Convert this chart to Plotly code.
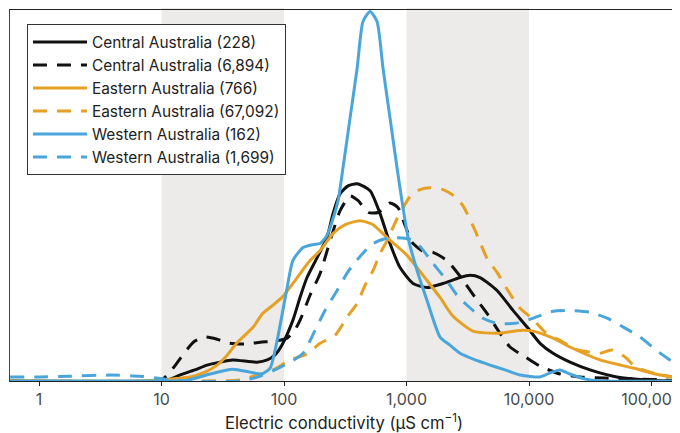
import plotly.graph_objects as go

# Electric conductivity (µS/cm) and relative density (% of max)
central_228_x = [0.58, 8.9, 11.7, 14.1, 18.7, 23.5, 30, 38, 60, 73, 84, 96, 118, 135, 154, 185, 224, 251, 287, 333, 395, 504, 608, 733, 885, 1130, 1470, 1984, 2735, 3300, 3980, 5480, 7400, 9640, 12300, 15700, 21600, 31500, 52100, 92600, 164500]
central_228_y = [0, 0, 0.5, 1.6, 3.0, 4.3, 5.1, 5.7, 5.1, 5.7, 7.0, 9.7, 16.4, 22.6, 28.0, 33.2, 38.8, 45.3, 50.7, 52.8, 53.4, 51.5, 45.3, 37.2, 30.7, 26.4, 25.3, 26.4, 28.0, 28.6, 28.0, 24.5, 19.1, 14.6, 10.2, 7.5, 5.1, 3.0, 1.1, 0.3, 0]

central_6894_x = [0.58, 9.7, 11.7, 13.4, 16.2, 18.7, 22.6, 28.4, 36, 48, 64, 84, 106, 122, 135, 163, 197, 238, 287, 346, 403, 486, 587, 733, 853, 975, 1110, 1333, 1646, 2141, 2820, 3630, 4540, 5795, 7000, 9330, 12300, 17900, 26100, 41500, 80500, 128700, 164500]
central_6894_y = [0, 0, 2.4, 4.9, 8.6, 10.8, 11.9, 11.3, 10.2, 10.0, 10.5, 10.8, 11.6, 13.7, 16.4, 23.2, 29.1, 38.0, 46.1, 50.1, 48.8, 45.6, 45.6, 48.2, 46.9, 42.0, 37.5, 35.3, 34.8, 32.6, 27.8, 22.6, 18.3, 12.9, 9.2, 6.5, 4.0, 1.9, 1.1, 0.8, 0.5, 0.3, 0]

eastern_766_x = [0.58, 6.7, 9.7, 17.1, 22.6, 28.4, 34.3, 41, 56, 67, 81, 98, 128, 163, 197, 251, 316, 417, 533, 693, 1009, 1470, 1877, 2398, 3490, 5480, 8450, 10780, 15700, 21600, 38000, 70700, 117300, 164500]
eastern_766_y = [0, 0, 0.3, 1.1, 2.4, 4.3, 7.0, 10.2, 14.6, 18.3, 20.5, 22.9, 28.0, 32.6, 35.3, 39.9, 42.3, 43.4, 42.3, 38.8, 34.0, 27.2, 22.6, 17.5, 13.5, 12.9, 13.7, 13.5, 11.6, 9.2, 5.7, 3.5, 1.6, 0.8]

eastern_67092_x = [0.58, 20.6, 44, 64, 84, 112, 154, 197, 262, 327, 395, 458, 533, 608, 693, 836, 936, 1069, 1289, 1556, 1984, 2490, 2893, 3630, 4540, 5480, 6720, 8450, 10780, 13520, 17900, 23750, 31500, 38000, 47600, 60800, 73900, 97200, 164500]
eastern_67092_y = [0, 0, 0.3, 1.9, 3.2, 5.7, 7.3, 10.2, 12.4, 17.3, 21.0, 25.9, 29.9, 34.5, 38.0, 43.9, 46.9, 49.9, 51.8, 52.3, 51.8, 49.9, 47.4, 40.7, 33.2, 29.4, 24.5, 19.7, 16.7, 13.2, 11.0, 8.6, 7.8, 7.5, 8.4, 6.5, 3.8, 2.4, 0.8]

western_162_x = [0.58, 8.06, 15.6, 24.9, 38, 52.7, 66, 77, 88, 106, 118, 143, 172, 197, 224, 251, 276, 303, 346, 395, 441, 504, 574, 643, 733, 836, 917, 1030, 1219, 1470, 1877, 2265, 2735, 3630, 4805, 6365, 8450, 12300, 14840, 17900, 21600, 29000, 38000, 164500]
western_162_y = [0, 0, 0.1, 1.9, 3.2, 2.4, 1.9, 3.5, 11.1, 25.3, 32.6, 36.1, 36.9, 37.2, 39.4, 43.9, 48.8, 57.7, 71.2, 84.6, 97.3, 100, 97.3, 84.6, 71.2, 57.7, 48.8, 38.8, 29.9, 21.8, 11.9, 9.7, 7.5, 5.7, 4.3, 3.0, 1.6, 1.1, 2.2, 3.0, 1.9, 0.5, 0, 0]

western_1699_x = [0.58, 1.02, 1.79, 3.8, 6.7, 10.7, 15.6, 44, 64, 84, 112, 143, 179, 216, 271, 333, 417, 533, 667, 836, 1069, 1289, 1646, 2062, 2585, 3120, 4210, 5480, 7690, 10190, 15700, 21600, 31500, 43400, 60800, 80500, 106900, 133900, 164500]
western_1699_y = [1.1, 1.1, 1.3, 1.6, 1.3, 0.5, 0, 0, 1.3, 3.0, 5.1, 7.5, 13.7, 19.1, 24.5, 29.6, 33.7, 37.2, 38.5, 38.8, 38.3, 36.4, 31.8, 27.8, 23.2, 20.5, 17.0, 15.6, 15.6, 16.7, 18.9, 19.1, 18.6, 17.0, 14.3, 11.9, 8.6, 6.2, 4.3]

series_names = ["Central Australia (228)", "Central Australia (6,894)", "Eastern Australia (766)",
                "Eastern Australia (67,092)", "Western Australia (162)", "Western Australia (1,699)"]

tick_vals = [1, 10, 100, 1000, 10000, 100000]
tick_text = ["1", "10", "100", "1,000", "10,000", "100,000"]
band_ranges = [(10, 100), (1000, 10000)]

BLACK = "#111111"
ORANGE = "#E6A024"
BLUE = "#4AA6DA"
DASH = "14px,10px"
FONT = "Inter"

series = [
    (central_228_x, central_228_y, BLACK, "solid"),
    (central_6894_x, central_6894_y, BLACK, DASH),
    (eastern_766_x, eastern_766_y, ORANGE, "solid"),
    (eastern_67092_x, eastern_67092_y, ORANGE, DASH),
    (western_162_x, western_162_y, BLUE, "solid"),
    (western_1699_x, western_1699_y, BLUE, DASH),
]

fig = go.Figure()
for name, (xs, ys, col, dash) in zip(series_names, series):
    fig.add_trace(go.Scatter(
        x=xs, y=ys, mode="lines", name=name,
        line=dict(color=col, width=3, dash=dash, shape="spline", smoothing=0.6),
    ))

for x0, x1 in band_ranges:
    fig.add_shape(type="rect", xref="x", yref="paper", x0=x0, x1=x1, y0=0, y1=1.008,
                  fillcolor="#ECEBEA", line=dict(width=0), layer="below")

# page body has an 8px default margin, so the figure is sized to fit 680x433 window
fig.update_layout(
    width=672, height=425,
    margin=dict(l=2, r=2, t=2, b=52, autoexpand=False),
    paper_bgcolor="white", plot_bgcolor="white",
    font=dict(family=FONT, size=15, color="#222222"),
    showlegend=True,
    legend=dict(x=0.0254, y=0.961, xanchor="left", yanchor="top",
                bgcolor="white", bordercolor="#333333", borderwidth=1,
                font=dict(family=FONT, size=15.4, color="#222222"), itemwidth=54,
                tracegroupgap=0),
    xaxis=dict(type="log", range=[-0.237, 5.216], tickvals=tick_vals, ticktext=tick_text,
               showgrid=False, zeroline=False, showline=True, linecolor="#222222", linewidth=1.3,
               mirror=True, ticks="outside", ticklen=4, tickcolor="#222222",
               ticklabeloverflow="allow",
               tickfont=dict(family=FONT, size=16, color="#4a4a4a"), automargin=False,
               title=dict(text="Electric conductivity (µS cm<sup>−1</sup>)",
                          font=dict(family=FONT, size=16.6, color="#222222"), standoff=13)),
    yaxis=dict(range=[0, 100.4], showticklabels=False, showgrid=False, zeroline=False,
               showline=True, linecolor="#444444", linewidth=1, mirror=True, ticks="",
               automargin=False),
)

fig.write_html("out.html")
